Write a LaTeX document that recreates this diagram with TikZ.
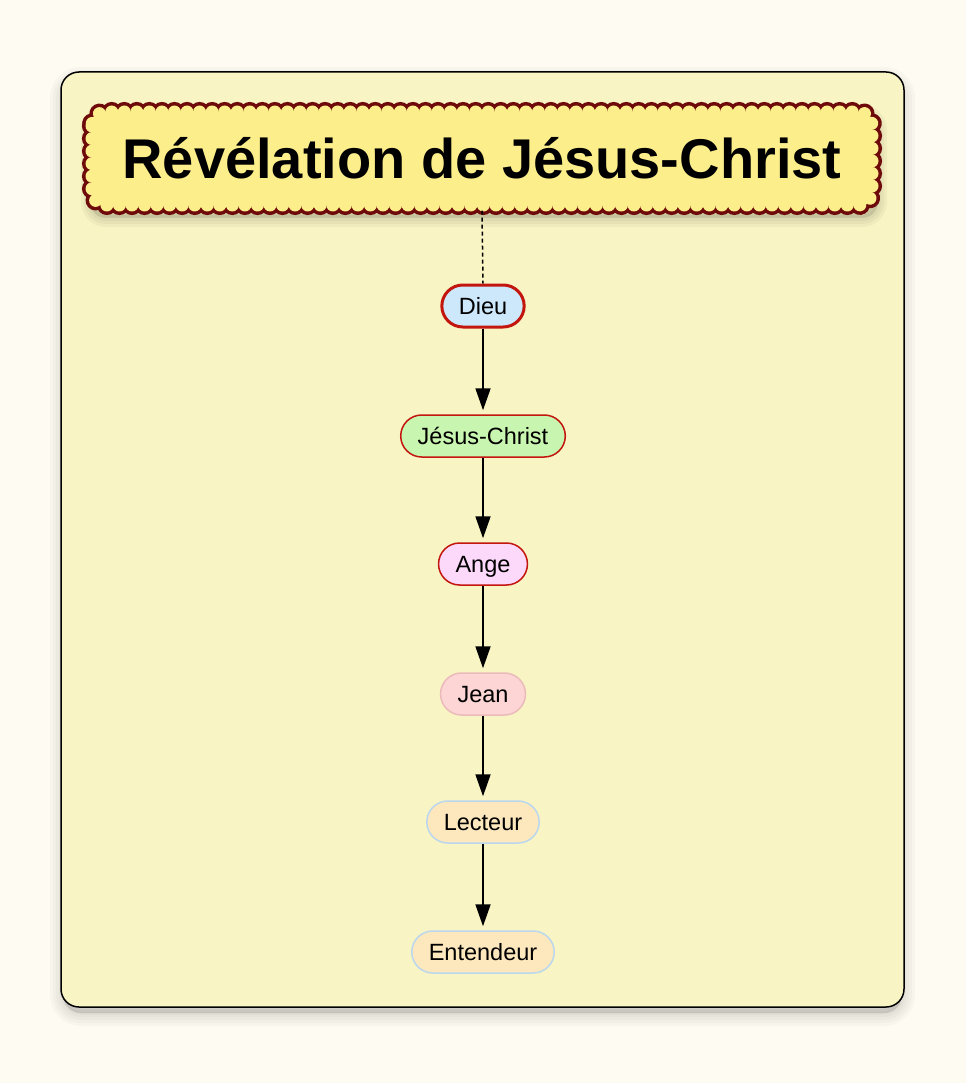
\documentclass[tikz,border=0pt]{standalone}
\usepackage{fontspec}
\setmainfont{Liberation Sans}
\usetikzlibrary{arrows.meta,decorations.markings}
\definecolor{pagebg}{HTML}{FEFBF2}
\definecolor{panelbg}{HTML}{F8F4C4}
\definecolor{titlebg}{HTML}{FCEE8A}
\definecolor{titleline}{HTML}{6E0A0A}
\definecolor{redline}{HTML}{C2160F}
\definecolor{pinkline}{HTML}{EBBBBB}
\definecolor{blueline}{HTML}{BAD7EE}
\definecolor{dieubg}{HTML}{CDE8FA}
\definecolor{jesusbg}{HTML}{C8F5B0}
\definecolor{angebg}{HTML}{FCD8FA}
\definecolor{jeanbg}{HTML}{FDD5D5}
\definecolor{lecteurbg}{HTML}{FDE8BE}

\begin{document}
\begin{tikzpicture}
[x=1pt,y=-1pt,
 concept/.style={draw,rounded corners=21pt,minimum height=42pt,inner xsep=17pt,
   text height=17pt,text depth=0pt,
   line width=1.5pt,font=\fontsize{23.5}{23.5}\selectfont},
 link/.style={line width=1.8pt,-{Triangle[length=22pt,width=15pt]},shorten >=4pt},
 scallop/.style={decorate,decoration={markings,
   mark=between positions 0 and 1 step 12.55pt with {#1}}}]
\useasboundingbox (0,0) rectangle (966,1083);
\fill[pagebg] (0,0) rectangle (966,1083);

% panel with soft shadow
\foreach \w in {26,20,14,8,3}
  \draw[black,fill=black,opacity=.022,line width=\w pt,rounded corners=18pt]
    (63,80) rectangle (902,1013);
\draw[line width=1.5pt,fill=panelbg,rounded corners=18pt] (61,72) rectangle (904,1007);

% title cloud
\foreach \w in {18,12,6}
  \draw[black,fill=black,opacity=.035,line width=\w pt,rounded corners=16pt]
    (90,114) rectangle (878,218);
\path[scallop={\draw[titleline,fill=titleline,line width=7pt] (0,0) circle (6.5pt);},
  rounded corners=14pt] (92,112) rectangle (872,205);
\path[scallop={\fill[titlebg] (0,0) circle (6.5pt);},
  rounded corners=14pt] (92,112) rectangle (872,205);
\fill[titlebg,rounded corners=10pt] (92,112) rectangle (872,205);
\node (title) at (482,158) [inner sep=0pt,minimum height=105pt,minimum width=792pt,
  font=\fontsize{56}{56}\selectfont\bfseries] {Révélation de Jésus-Christ};

\node[concept,draw=redline,fill=dieubg,line width=3pt] (dieu) at (483,306) {Dieu};
\node[concept,draw=redline,fill=jesusbg] (jesus) at (483,436) {Jésus-Christ};
\node[concept,draw=redline,fill=angebg] (ange) at (483,564) {Ange};
\node[concept,draw=pinkline,fill=jeanbg] (jean) at (483,694) {Jean};
\node[concept,draw=blueline,fill=lecteurbg] (lecteur) at (483,822) {Lecteur};
\node[concept,draw=blueline,fill=lecteurbg] (entendeur) at (483,952) {Entendeur};

\draw[line width=1.5pt,dash pattern=on 4pt off 3pt] (title.south) -- (dieu.north);
\foreach \from/\to in {dieu/jesus,jesus/ange,ange/jean,jean/lecteur,lecteur/entendeur}
\draw[link] (\from) -- (\to);

\end{tikzpicture}
\end{document}
